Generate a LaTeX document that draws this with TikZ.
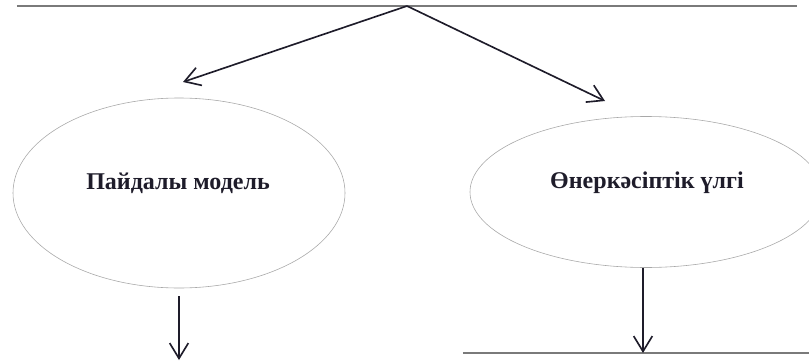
\documentclass[tikz,border=0pt]{standalone}
\usepackage{fontspec}
\setmainfont{Liberation Serif}
\usetikzlibrary{arrows.meta, shapes.geometric}
\definecolor{inkline}{HTML}{1E1C2A}
\definecolor{ovalline}{HTML}{A8A8A8}
\definecolor{boxline}{HTML}{7A7A7A}

\begin{document}
\begin{tikzpicture}[
  x=0.03cm, y=-0.03cm,
  >={Straight Barb[length=4.6mm, width=5.6mm]},
  arr/.style={->, line width=1.4pt, inkline},
  oval/.style 2 args={
    ellipse, draw=ovalline, line width=0.5pt,
    minimum width=#1*0.03cm, minimum height=#2*0.03cm, inner sep=0pt
  },
  label/.style={font=\fontsize{20.5}{24}\selectfont\bfseries, text=inkline},
  cutbox/.style={minimum width=#1*0.03cm, minimum height=3cm, inner sep=0pt},
  edge/.style={boxline, line width=1.1pt},
]

% Page
\useasboundingbox (0,0) rectangle (809,360);
\clip (0,0) rectangle (809,360);

% Boxes cut by the page edge
\node[cutbox=780, anchor=south] (top) at (407,6) {};
\draw[edge] (top.south west) -- (top.south east);
\node[cutbox=360, anchor=north] (ind) at (643,353) {};
\draw[edge] (ind.north west) -- (ind.north east);

% Ellipses
\node[oval={332}{190}] (util) at (179,193) {};
\node[label] at (178,183) {Пайдалы модель};

\node[oval={352}{151}] (indm) at (646,192) {};
\node[label] at (647,183) {Өнеркәсіптік үлгі};

% Arrow ends
\coordinate (utop) at (183,82);
\coordinate (itop) at (605,101);
\coordinate (ubot) at (179,360);

% Arrows
\draw[arr] (top.south) -- (utop);
\draw[arr] (top.south) -- (itop);
\draw[arr, shorten <=7pt] (util.south) -- (ubot);
\draw[arr] (indm.south -| ind.north) -- (ind.north);

\end{tikzpicture}
\end{document}
